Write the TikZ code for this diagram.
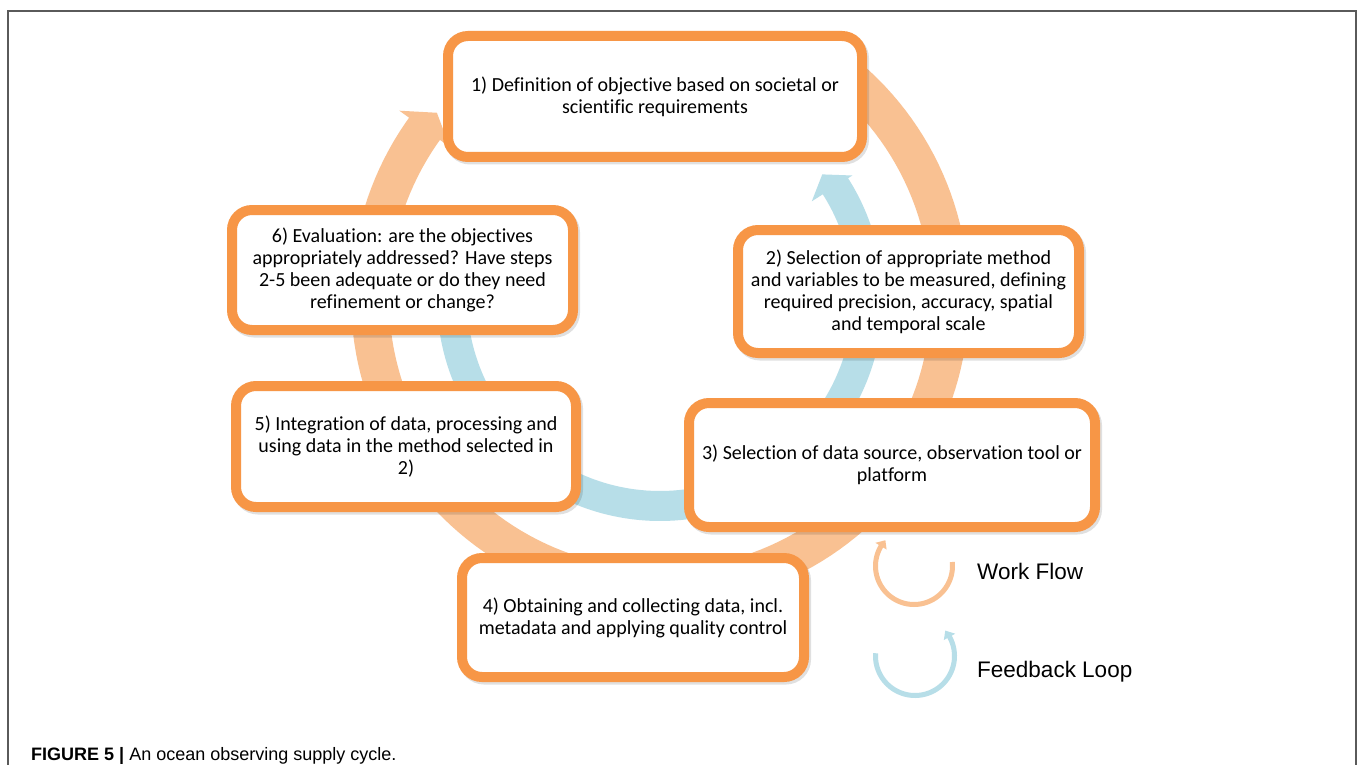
\documentclass[tikz,border=0pt]{standalone}
\usepackage{fontspec}
\setmainfont{Carlito}[Ligatures=NoCommon]
\newfontfamily\arialfont{Liberation Sans}
\usetikzlibrary{shadows}
\definecolor{boxorange}{RGB}{247,150,70}
\definecolor{lightorange}{RGB}{249,193,146}
\definecolor{lightblue}{RGB}{183,222,232}
\definecolor{framegray}{RGB}{90,90,90}
\begin{document}
\begin{tikzpicture}[x=1pt,y=-1pt,
  stepbox/.style={draw=boxorange, line width=10pt, rounded corners=20pt, fill=white,
    align=center, font=\fontsize{20}{22}\selectfont, inner sep=0pt, text=black,
    drop shadow={shadow xshift=2pt, shadow yshift=-2.5pt, draw=black, fill=black, line width=10pt, opacity=0.12}},
  flowarc/.style={lightorange, line width=38pt},
  feedarc/.style={lightblue, line width=30pt},
  legtext/.style={anchor=base west, inner sep=0pt, font=\arialfont\fontsize{22.5}{27}\selectfont, text=black},
]
\useasboundingbox (0,0) rectangle (1358,765);
\fill[white] (0,0) rectangle (1358,765);
% frame
\draw[framegray, line width=1.5pt] (8,765) -- (8,11) -- (1356,11) -- (1356,765);

% work flow ring (orange)
\draw[flowarc] plot[domain=-55:216.5, samples=140] ({660+290*cos(\x)},{298+290*sin(\x)});
\fill[lightorange] ({660+321*cos(215.7)},{298+321*sin(215.7)}) -- ({660+290*cos(219.7)},{298+290*sin(219.7)}) -- ({660+259*cos(215.7)},{298+259*sin(215.7)}) -- cycle;

% feedback ring (blue)
\draw[feedarc] plot[domain=188:-33.3, samples=140] ({660+208*cos(\x)},{298+208*sin(\x)});
\fill[lightblue] ({660+180*cos(-32.5)},{298+180*sin(-32.5)}) -- ({660+204*cos(-37.3)},{298+204*sin(-37.3)}) -- ({660+228*cos(-32.5)},{298+228*sin(-32.5)}) -- cycle;

% boxes
\node[stepbox, minimum width=414pt, minimum height=121pt] (s1) at (655,96.5)
  {1) Definition of objective based on societal or\\scientific requirements};
\node[stepbox, minimum width=341pt, minimum height=123pt] (s2) at (908.5,291.5)
  {2) Selection of appropriate method\\and variables to be measured, defining\\required precision, accuracy, spatial\\and temporal scale};
\node[stepbox, minimum width=406pt, minimum height=124pt] (s3) at (892,465)
  {3) Selection of data source, observation tool or\\platform};
\node[stepbox, minimum width=342pt, minimum height=119pt] (s4) at (633,617.5)
  {4) Obtaining and collecting data, incl.\\metadata and applying quality control};
\node[stepbox, minimum width=340pt, minimum height=121pt] (s5) at (406,446.5)
  {5) Integration of data, processing and\\using data in the method selected in\\2)};
\node[stepbox, minimum width=341pt, minimum height=120pt] (s6) at (402.5,270)
  {6) Evaluation: are the objectives\\appropriately addressed? Have steps\\2-5 been adequate or do they need\\refinement or change?};

% legend
\draw[lightorange, line width=5pt] plot[domain=-6:212, samples=60] ({914+38.5*cos(\x)},{566+38.5*sin(\x)});
\fill[lightorange] ({914+32*cos(211)},{566+32*sin(211)}) -- ({914+38.5*cos(222)},{566+38.5*sin(222)}) -- ({914+45*cos(211)},{566+45*sin(211)}) -- cycle;
\draw[lightblue, line width=5pt] plot[domain=184:-30, samples=60] ({915+39.5*cos(\x)},{656+39.5*sin(\x)});
\fill[lightblue] ({915+33*cos(-29)},{656+33*sin(-29)}) -- ({915+39.5*cos(-40)},{656+39.5*sin(-40)}) -- ({915+46*cos(-29)},{656+46*sin(-29)}) -- cycle;
\node[legtext] (wf) at (977,579) {Work Flow};
\node[legtext] (fl) at (977,677) {Feedback Loop};

% caption
\node[anchor=base west, inner sep=0pt, font=\arialfont\fontsize{18}{22}\selectfont] (cap) at (31,760)
  {\textbf{FIGURE 5 |} An ocean observing supply cycle.};
\end{tikzpicture}
\end{document}
